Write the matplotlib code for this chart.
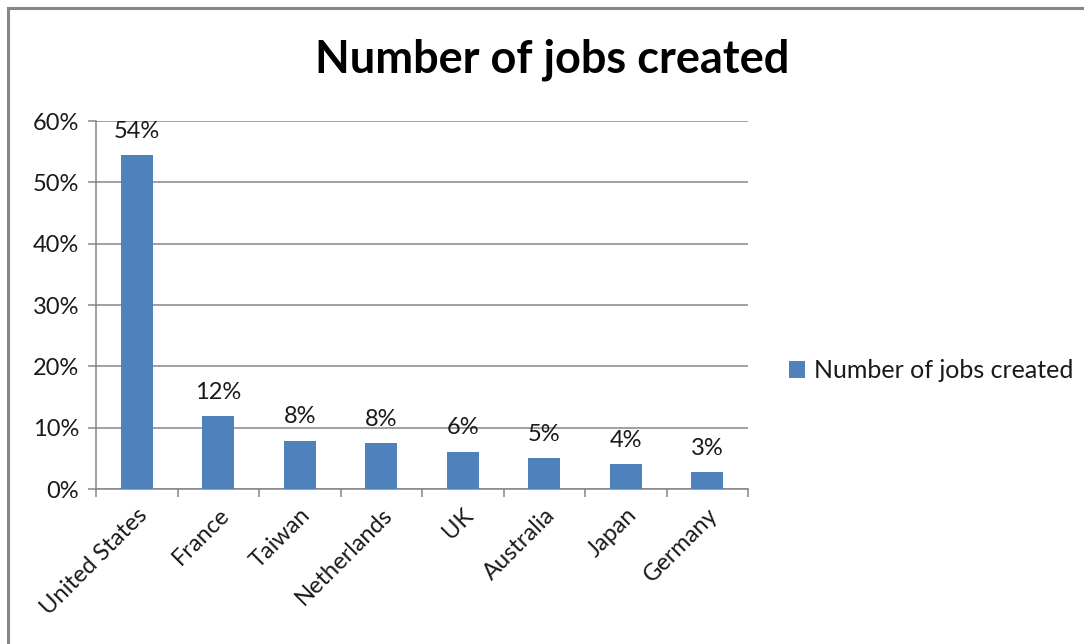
import matplotlib
matplotlib.use("Agg")
import matplotlib.pyplot as plt
from matplotlib.lines import Line2D
from matplotlib.ticker import PercentFormatter

countries = ["United States", "France", "Taiwan", "Netherlands", "UK",
             "Australia", "Japan", "Germany"]
share_pct = [54.4, 11.9, 7.9, 7.5, 6.1, 5.0, 4.0, 2.7]
series_name = "Number of jobs created"
title = "Number of jobs created"

plt.rcParams["font.family"] = ["Lato", "DejaVu Sans"]

W, H = 1084, 644
fig = plt.figure(figsize=(W / 100, H / 100), dpi=100)
fig.patch.set_facecolor("white")

# chart frame (top and left edges visible)
frame_col = "#878787"
fig.add_artist(Line2D([8 / W, 1], [1 - 8 / H, 1 - 8 / H], color=frame_col, lw=2.2,
                      transform=fig.transFigure))
fig.add_artist(Line2D([8 / W, 8 / W], [0, 1 - 8 / H], color=frame_col, lw=2.2,
                      transform=fig.transFigure))

x0, x1, ytop, ybot = 96, 748, 121, 489
ax = fig.add_axes([x0 / W, 1 - ybot / H, (x1 - x0) / W, (ybot - ytop) / H])

bar_col = "#4F81BD"
xs = list(range(len(countries)))
bars = ax.bar(xs, share_pct, width=0.39, color=bar_col, label=series_name,
              zorder=3)

text_col = "#1a1a1a"
fs = 17
for b, v in zip(bars, share_pct):
    ax.text(b.get_x() + b.get_width() / 2, v + 2.2, f"{v:.0f}%",
            ha="center", va="bottom", fontsize=fs, color=text_col)

ax.set_ylim(0, 60)
ax.set_xlim(-0.5, len(countries) - 0.5)
ax.set_yticks(range(0, 61, 10))
ax.yaxis.set_major_formatter(PercentFormatter(decimals=0))
ax.grid(axis="y", color="#868686", lw=1.1, zorder=0)

grid_col = "#868686"
for s in ["top", "right"]:
    ax.spines[s].set_visible(False)
for s in ["left", "bottom"]:
    ax.spines[s].set_color(grid_col)
    ax.spines[s].set_linewidth(1.1)

ax.set_xticks(xs)
ax.set_xticklabels(countries, rotation=45, ha="right", rotation_mode="anchor",
                   fontsize=fs, color=text_col)
ax.tick_params(axis="x", which="major", length=0, pad=11)
ax.set_xticks([i - 0.5 for i in range(len(countries) + 1)], minor=True)
ax.tick_params(axis="x", which="minor", length=6, color=grid_col, width=1.1)
ax.tick_params(axis="y", length=6, color=grid_col, width=1.1, labelsize=fs,
               labelcolor=text_col, pad=6)

fig.text((317 + 787) / 2 / W, 1 - 60 / H, title, ha="center", va="center",
         fontsize=32.5, fontweight="bold", color="#000000")

leg = ax.legend(loc="center left", bbox_to_anchor=(776 / W, 1 - 371 / H),
                bbox_transform=fig.transFigure, frameon=False, fontsize=18,
                handlelength=0.65, handleheight=0.65, handletextpad=0.35,
                borderpad=0)
for t in leg.get_texts():
    t.set_color(text_col)

fig.savefig("out.png", dpi=100, facecolor="white")
